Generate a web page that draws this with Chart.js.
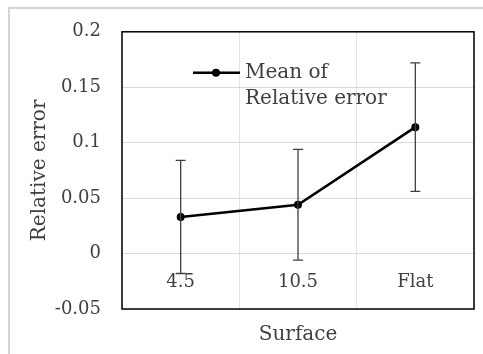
<!DOCTYPE html>
<html>
<head>
<meta charset="utf-8">
<script src="https://cdn.jsdelivr.net/npm/chart.js@4.4.1/dist/chart.umd.min.js"></script>
<style>
  html, body { margin: 0; padding: 0; background: #fff; overflow: hidden; }
  #wrap { position: relative; width: 483px; height: 354px; }
  #frame { position: absolute; left: 8px; top: 7px; width: 500px; height: 400px; border: 2px solid #d4d4d4; box-sizing: border-box; }
  canvas { position: absolute; left: 0; top: 0; }
</style>
</head>
<body>
<div id="wrap">
  <div id="frame"></div>
  <canvas id="chart" width="483" height="354"></canvas>
</div>
<script>
// datos
const categories = ['4.5', '10.5', 'Flat'];
const meanValues = [0.033, 0.044, 0.114];
const errorValues = [0.051, 0.050, 0.058];
const yTickLabels = ['-0.05', '0', '0.05', '0.1', '0.15', '0.2'];
const seriesName = ['Mean of', 'Relative error'];

const serif = 'DejaVu Serif';

// barras de error, etiquetas del eje x dentro del area y leyenda
const extras = {
  id: 'extras',
  afterDatasetsDraw(chart) {
    const { ctx, chartArea: a, scales: { x, y } } = chart;
    ctx.save();
    // error bars
    ctx.strokeStyle = '#404040';
    ctx.lineWidth = 1.3;
    meanValues.forEach((v, i) => {
      const px = x.getPixelForValue(i);
      const top = y.getPixelForValue(v + errorValues[i]);
      const bot = y.getPixelForValue(v - errorValues[i]);
      ctx.beginPath();
      ctx.moveTo(px, top); ctx.lineTo(px, bot);
      ctx.moveTo(px - 5, top); ctx.lineTo(px + 5, top);
      ctx.moveTo(px - 5, bot); ctx.lineTo(px + 5, bot);
      ctx.stroke();
    });
    // x tick labels next to the zero line
    ctx.fillStyle = '#404040';
    ctx.font = '18px "' + serif + '"';
    ctx.textAlign = 'center';
    ctx.textBaseline = 'middle';
    const y0 = y.getPixelForValue(0);
    categories.forEach((c, i) => {
      ctx.fillText(c, x.getPixelForValue(i), y0 + 29);
    });
    // plot border
    ctx.strokeStyle = '#000';
    ctx.lineWidth = 1.5;
    ctx.strokeRect(a.left, a.top, a.right - a.left, a.bottom - a.top);
    // legend
    const lx = a.left + 71, ly = a.top + 41;
    ctx.strokeStyle = '#000';
    ctx.lineWidth = 2.5;
    ctx.beginPath();
    ctx.moveTo(lx, ly); ctx.lineTo(lx + 47, ly);
    ctx.stroke();
    ctx.fillStyle = '#000';
    ctx.beginPath();
    ctx.arc(lx + 23, ly, 4, 0, Math.PI * 2);
    ctx.fill();
    ctx.fillStyle = '#404040';
    ctx.font = '20px "' + serif + '"';
    ctx.textAlign = 'left';
    ctx.fillText(seriesName[0], lx + 52, ly);
    ctx.fillText(seriesName[1], lx + 52, ly + 26);
    ctx.restore();
  }
};

const ctx = document.getElementById('chart').getContext('2d');
new Chart(ctx, {
  type: 'line',
  data: {
    labels: categories,
    datasets: [{
      label: seriesName.join(' '),
      data: meanValues,
      borderColor: '#000',
      backgroundColor: '#000',
      borderWidth: 2.5,
      pointRadius: 4,
      pointBackgroundColor: '#000',
      pointBorderWidth: 0,
      tension: 0
    }]
  },
  options: {
    responsive: false,
    animation: false,
    layout: { padding: { top: 30, right: 9, left: 0, bottom: 0 } },
    plugins: { legend: { display: false }, tooltip: { enabled: false } },
    scales: {
      x: {
        type: 'category',
        offset: true,
        grid: { offset: true, color: '#e3e3e3', lineWidth: 1, drawTicks: false },
        border: { display: false },
        ticks: { display: false },
        title: {
          display: true, text: 'Surface', color: '#404040',
          font: { family: serif, size: 20 }, padding: { top: 0, bottom: 7 }
        },
        afterFit(scale) { scale.height = 45; }
      },
      y: {
        min: -0.05,
        max: 0.2,
        grid: { color: '#d9d9d9', lineWidth: 1, drawTicks: false },
        border: { display: false },
        ticks: {
          stepSize: 0.05,
          padding: 21,
          color: '#404040',
          font: { family: serif, size: 18 },
          callback: (v, i) => yTickLabels[i]
        },
        title: {
          display: true, text: 'Relative error', color: '#404040',
          font: { family: serif, size: 20 }, padding: { top: 28, bottom: 0 }
        },
        afterFit(scale) { scale.width = 122; }
      }
    }
  },
  plugins: [extras]
});
</script>
</body>
</html>
